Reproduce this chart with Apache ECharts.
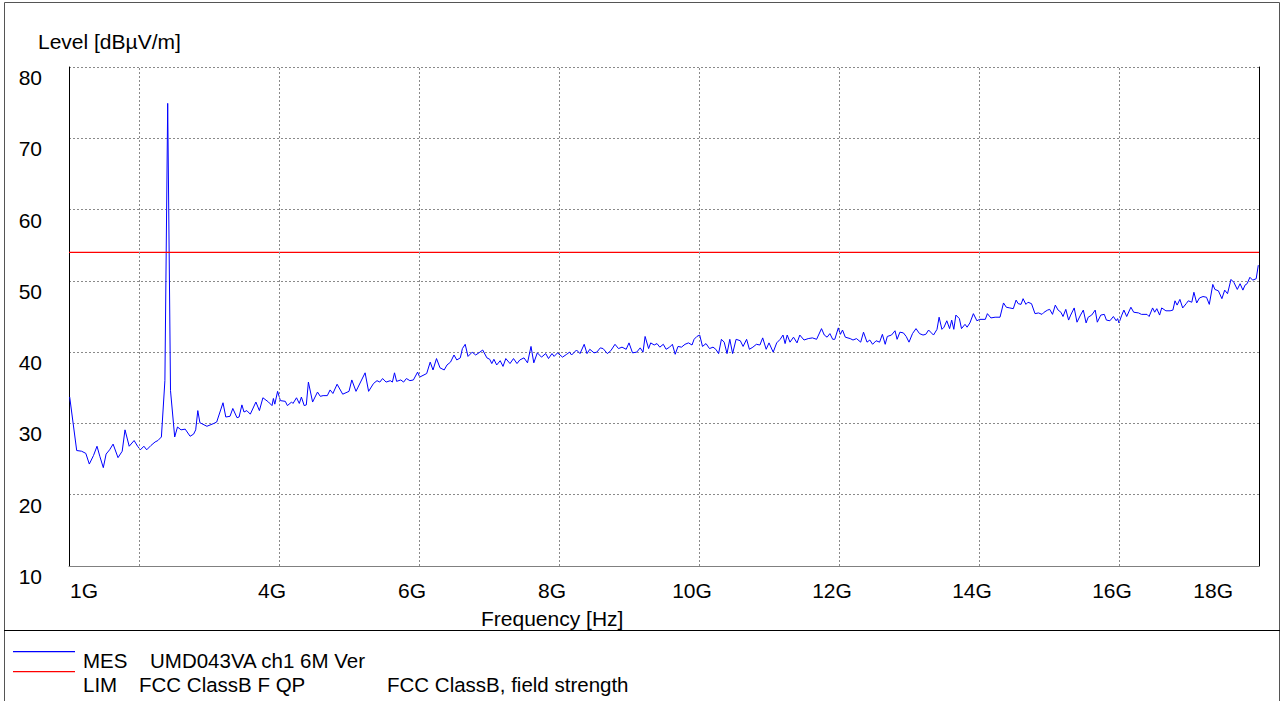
<!DOCTYPE html>
<html>
<head>
<meta charset="utf-8">
<script src="https://cdn.jsdelivr.net/npm/echarts@6/dist/echarts.min.js"></script>
<style>
html,body{margin:0;padding:0;background:#fff;}
#chart{width:1280px;height:701px;}
</style>
</head>
<body>
<div id="chart"></div>
<script>
// ---- data (frequency in GHz, level in dBµV/m) ----
const mesTrace = [
[1.01,33.7],[1.11,26.2],[1.18,26.1],[1.24,25.8],[1.29,24.3],[1.35,25.5],[1.40,26.8],[1.44,25.4],[1.49,23.8],[1.53,25.7],
[1.58,26.3],[1.63,27.1],[1.70,25.2],[1.76,26.1],[1.80,29.1],[1.86,26.8],[1.93,27.6],[1.98,26.8],[2.02,26.3],[2.07,26.8],
[2.11,26.3],[2.17,26.9],[2.23,27.4],[2.27,27.6],[2.32,28.1],[2.37,36.0],[2.41,74.9],[2.42,74.9],[2.45,34.6],[2.51,28.1],
[2.55,29.5],[2.60,29.1],[2.66,29.2],[2.73,28.2],[2.78,28.5],[2.81,29.1],[2.84,31.8],[2.87,30.1],[2.97,29.6],[3.07,30.0],
[3.11,30.2],[3.20,32.9],[3.24,30.9],[3.30,31.0],[3.34,32.1],[3.40,30.8],[3.43,30.9],[3.47,32.6],[3.50,31.6],[3.54,31.8],
[3.59,31.3],[3.67,33.0],[3.72,31.8],[3.77,33.6],[3.85,33.0],[3.90,32.5],[3.92,33.5],[3.94,32.7],[3.98,34.5],[4.02,33.2],
[4.09,33.1],[4.12,32.5],[4.18,33.0],[4.20,32.8],[4.25,33.6],[4.29,32.8],[4.32,33.7],[4.36,32.5],[4.39,32.6],[4.42,35.8],
[4.48,33.0],[4.55,34.4],[4.59,33.8],[4.63,33.9],[4.69,33.9],[4.73,34.7],[4.77,34.2],[4.83,35.5],[4.91,34.1],[5.00,34.5],
[5.04,36.1],[5.10,34.5],[5.13,35.1],[5.23,37.1],[5.28,34.5],[5.35,35.6],[5.40,36.0],[5.44,35.8],[5.48,36.3],[5.53,35.8],
[5.59,36.0],[5.62,35.8],[5.65,37.1],[5.68,35.9],[5.74,36.1],[5.78,35.8],[5.82,36.3],[5.87,36.0],[5.92,36.1],[5.98,37.2],
[6.01,36.5],[6.11,37.0],[6.16,38.6],[6.20,37.5],[6.25,39.1],[6.30,37.8],[6.36,37.5],[6.40,38.2],[6.45,38.6],
[6.50,39.6],[6.54,38.9],[6.59,39.2],[6.62,40.5],[6.66,41.1],[6.70,39.4],[6.76,40.0],[6.81,39.6],[6.87,40.0],[6.91,40.3],
[6.97,39.2],[7.01,39.0],[7.04,38.4],[7.07,39.0],[7.11,38.2],[7.16,38.8],[7.20,38.0],[7.24,39.1],[7.30,38.4],[7.35,39.1],
[7.40,38.4],[7.44,38.9],[7.50,39.2],[7.55,38.5],[7.60,40.8],[7.64,38.5],[7.69,39.9],[7.75,39.3],[7.81,39.8],[7.85,39.1],
[7.90,39.8],[7.93,39.4],[7.98,39.9],[8.05,39.3],[8.11,39.7],[8.15,40.0],[8.18,39.6],[8.25,40.3],[8.30,39.8],[8.36,41.1],
[8.40,39.8],[8.44,40.4],[8.50,39.9],[8.54,40.0],[8.59,40.6],[8.63,40.5],[8.69,39.8],[8.74,40.2],[8.80,41.1],[8.85,40.5],
[8.90,40.7],[8.96,40.4],[9.00,41.3],[9.05,39.9],[9.11,40.0],[9.16,40.6],
[9.20,40.0],[9.23,42.2],[9.28,40.5],[9.31,41.3],[9.36,41.0],[9.40,41.2],[9.44,40.7],[9.49,41.1],[9.53,40.4],[9.58,40.7],
[9.62,41.1],[9.66,39.7],[9.70,40.8],[9.75,40.7],[9.80,41.1],[9.85,41.3],[9.90,41.0],[9.93,41.8],[9.97,42.2],[10.01,42.4],
[10.05,40.8],[10.10,41.2],[10.15,40.5],[10.20,40.7],[10.24,40.4],[10.28,39.8],[10.32,41.8],[10.36,41.4],[10.40,39.8],[10.44,41.8],
[10.48,39.8],[10.53,41.8],[10.59,41.6],[10.63,40.8],[10.68,41.8],[10.72,40.4],[10.77,40.7],[10.82,41.1],[10.87,41.0],[10.91,42.0],
[10.96,40.4],[11.00,41.3],[11.06,40.0],[11.11,41.3],[11.16,41.8],[11.20,42.4],[11.23,41.2],[11.26,42.4],[11.30,41.4],[11.35,42.1],
[11.40,41.3],[11.44,42.4],[11.50,41.7],[11.56,41.9],[11.62,42.0],[11.68,41.8],[11.75,43.3],
[11.79,42.4],[11.83,42.1],[11.87,42.6],[11.91,41.8],[11.94,41.8],[11.99,43.4],[12.02,42.5],[12.05,43.1],[12.09,42.1],[12.16,41.9],
[12.20,41.7],[12.25,41.9],[12.31,41.4],[12.35,42.8],[12.40,41.4],[12.44,41.7],[12.48,41.1],[12.53,41.6],[12.58,41.4],[12.62,42.5],
[12.66,41.1],[12.69,42.2],[12.75,42.4],[12.80,43.0],[12.83,41.8],[12.87,42.8],[12.92,42.7],[12.96,42.2],[13.00,41.4],[13.05,42.6],
[13.10,43.3],[13.15,42.6],[13.20,42.4],[13.24,42.5],[13.28,43.1],[13.32,42.7],[13.35,42.4],[13.40,43.2],[13.43,44.9],[13.47,43.2],
[13.50,43.5],[13.54,44.4],[13.58,43.3],[13.61,44.5],[13.64,43.2],[13.67,45.2],[13.72,44.7],[13.75,43.3],[13.80,43.9],[13.83,43.5],
[13.87,44.1],[13.92,45.4],[13.97,44.4],[14.01,44.6],[14.09,44.6],[14.12,45.4],[14.17,44.8],[14.23,44.9],[14.30,44.9],[14.35,46.9],
[14.39,46.3],[14.44,46.2],
[14.49,46.1],[14.53,47.3],[14.56,46.8],[14.60,46.7],[14.63,47.5],[14.67,46.7],[14.70,47.0],[14.75,46.8],[14.80,45.4],[14.85,45.5],
[14.90,45.3],[14.93,45.6],[14.98,45.9],[15.01,46.0],[15.05,45.3],[15.09,46.6],[15.13,45.9],[15.17,45.6],[15.20,45.0],[15.24,46.0],
[15.28,44.5],[15.31,45.2],[15.36,46.2],[15.40,44.2],[15.45,45.2],[15.49,45.9],[15.53,44.1],[15.56,44.9],[15.61,45.2],[15.66,45.9],
[15.69,44.2],[15.74,45.2],[15.79,45.3],[15.82,44.5],[15.87,44.4],[15.92,45.0],[15.96,44.4],[15.98,44.7],[16.00,44.1],[16.04,45.2],
[16.07,45.9],[16.11,45.0],[16.17,46.3],[16.21,45.6],[16.28,45.5],[16.32,45.3],[16.40,45.3],[16.43,45.0],[16.48,46.2],[16.51,45.6],
[16.54,46.1],[16.58,45.2],[16.61,46.2],[16.67,45.8],[16.73,45.8],[16.77,45.9],[16.80,47.2],[16.83,46.6],[16.87,47.4],[16.91,46.2],
[16.96,46.8],[16.99,47.2],[17.04,47.0],[17.07,48.4],[17.11,46.9],[17.15,47.6],[17.20,47.8],[17.25,47.7],[17.29,46.7],[17.34,49.5],
[17.37,48.8],[17.42,48.6],[17.47,47.5],[17.51,48.7],[17.55,48.2],[17.60,50.2],[17.64,49.8],[17.69,48.8],[17.73,49.6],[17.77,48.7],
[17.80,49.4],[17.83,49.6],[17.87,50.5],[17.91,50.1],[17.96,50.3],[17.99,52.2]
];
const limitFreq = [1, 18];
const limitLevel = [54, 54];
const xTickValues = [1, 4, 6, 8, 10, 12, 14, 16, 18];
const xTickLabels = ['1G', '4G', '6G', '8G', '10G', '12G', '14G', '16G', '18G'];
const xGridValues = [2, 4, 6, 8, 10, 12, 14, 16];
const yMin = 10, yMax = 80, yStep = 10;
const xMin = 1, xMax = 18;
const yTitle = 'Level [dBµV/m]';
const xTitle = 'Frequency [Hz]';
const legendRows = [
  { color: '#0000ff', key: 'MES', name: 'UMD043VA ch1 6M Ver', extra: '' },
  { color: '#ff0000', key: 'LIM', name: 'FCC ClassB F QP', extra: 'FCC ClassB, field strength' }
];

// ---- chart ----
const FONT = '"Liberation Sans", Arial, Helvetica, sans-serif';
const FS = 21;
const chart = echarts.init(document.getElementById('chart'), null, { renderer: 'svg' });

const limitData = limitFreq.map((f, i) => [f, limitLevel[i]]);

function txt(text, x, y, fs) {
  return {
    type: 'text', x: x, y: y, silent: true,
    style: { text: text, fill: '#000', fontSize: fs || FS, fontFamily: FONT, align: 'left', verticalAlign: 'middle' }
  };
}

const graphics = [
  { type: 'rect', silent: true, shape: { x: 4.5, y: 2.5, width: 1275, height: 720 }, style: { fill: 'none', stroke: '#555', lineWidth: 1 } },
  { type: 'rect', silent: true, shape: { x: 4, y: 630, width: 1276, height: 1 }, style: { fill: '#000' } },
  txt(yTitle, 38, 41),
  txt(xTitle, 481, 618)
];
const legendLineY = [651, 671];
const legendTextY = [660, 684];
legendRows.forEach((r, i) => {
  graphics.push({ type: 'rect', silent: true, shape: { x: 13, y: legendLineY[i], width: 62, height: 1.2 }, style: { fill: r.color } });
  graphics.push(txt(r.key, 83, legendTextY[i], 20.5));
  graphics.push(txt(r.name, i === 0 ? 150 : 139, legendTextY[i], 20.5));
  if (r.extra) graphics.push(txt(r.extra, 387, legendTextY[i], 20.5));
});

const option = {
  animation: false,
  backgroundColor: '#fff',
  textStyle: { fontFamily: FONT },
  grid: { left: 69, top: 67, width: 1190, height: 499, containLabel: false },
  xAxis: {
    type: 'value', min: xMin, max: xMax, interval: 1,
    axisLine: { show: true, lineStyle: { color: '#808080', width: 1 } },
    axisTick: { show: false },
    splitLine: { show: false },
    axisLabel: {
      customValues: xTickValues,
      margin: 14,
      color: '#000', fontSize: FS, fontFamily: FONT,
      alignMinLabel: 'left', alignMaxLabel: 'right',
      formatter: function (v) {
        const idx = xTickValues.indexOf(v);
        const lab = idx >= 0 ? xTickLabels[idx] : '';
        if (v === xMin) return '{l|' + lab + '}';
        if (v === xMax) return '{r|' + lab + '}';
        return '{c|' + lab + '}';
      },
      rich: {
        l: { fontSize: FS, fontFamily: FONT, color: '#000', padding: [0, 0, 0, 1] },
        c: { fontSize: FS, fontFamily: FONT, color: '#000', padding: [0, 14, 0, 0] },
        r: { fontSize: FS, fontFamily: FONT, color: '#000', padding: [0, 26, 0, 0] }
      }
    }
  },
  yAxis: [{
    type: 'value', min: yMin, max: yMax, interval: yStep,
    axisLine: { show: true, lineStyle: { color: '#000', width: 1 } },
    axisTick: { show: false },
    axisLabel: { margin: 27, color: '#000', fontSize: FS, fontFamily: FONT, verticalAlign: 'top' },
    splitLine: { show: true, lineStyle: { color: '#8a8a8a', type: [2, 2], width: 1 } }
  }, {
    type: 'value', min: yMin, max: yMax, interval: yStep, position: 'right',
    axisLine: { show: true, onZero: false, lineStyle: { color: '#000', width: 1 } },
    axisTick: { show: false }, axisLabel: { show: false }, splitLine: { show: false }
  }],
  graphic: { elements: graphics },
  series: [
    {
      name: 'grid', type: 'line', data: [], silent: true, z: 1,
      markLine: {
        silent: true, symbol: ['none', 'none'], animation: false,
        label: { show: false },
        lineStyle: { color: '#8a8a8a', type: [2, 2], width: 1 },
        data: xGridValues.map(v => ({ xAxis: v }))
      }
    },
    {
      name: 'MES', type: 'line', data: mesTrace, z: 3,
      showSymbol: false, symbol: 'none',
      lineStyle: { color: '#0000ff', width: 1 }, itemStyle: { color: '#0000ff' }
    },
    {
      name: 'LIM', type: 'line', data: limitData, z: 4,
      showSymbol: false, symbol: 'none',
      lineStyle: { color: '#ff0000', width: 1.3 }, itemStyle: { color: '#ff0000' }
    }
  ]
};
chart.setOption(option);
</script>
</body>
</html>
